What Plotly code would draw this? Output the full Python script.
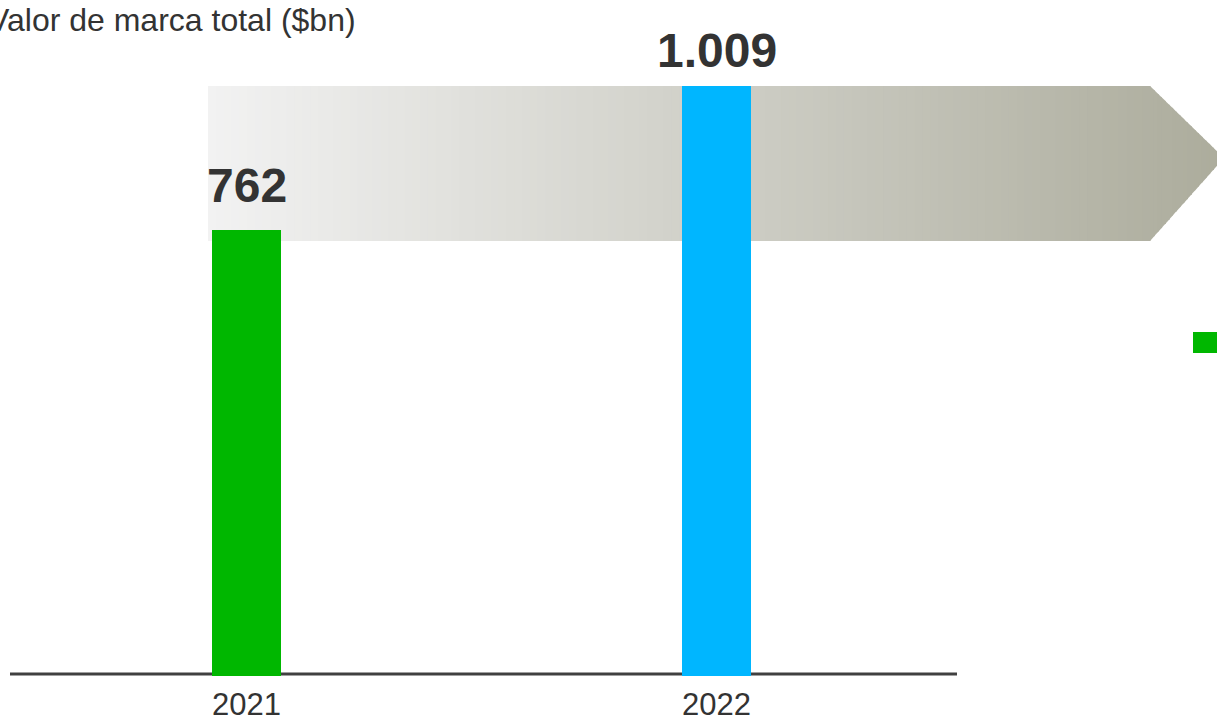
import plotly.graph_objects as go

# ---- data ----
years = ["2021", "2022"]
values = [762, 1009]
value_labels = ["762", "1.009"]
bar_colors = ["#00B700", "#00B6FF"]
title_text = "Valor de marca total ($bn)"

# ---- layout constants (pixels) ----
W, H = 1217, 721
PLOT_LEFT, PLOT_RIGHT = 10, 957
PLOT_TOP, PLOT_BOTTOM = 60, 676
L = PLOT_LEFT
R = W - PLOT_RIGHT
T = PLOT_TOP
B = H - PLOT_BOTTOM
PW = PLOT_RIGHT - PLOT_LEFT
PH = PLOT_BOTTOM - PLOT_TOP


def px(x):
    return (x - PLOT_LEFT) / PW


def py(y):
    return (PLOT_BOTTOM - y) / PH


fig = go.Figure()
fig.add_trace(go.Bar(
    x=[0, 1], y=values, width=0.1468,
    marker=dict(color=bar_colors, line=dict(width=0)),
    showlegend=False, hoverinfo="skip",
))

shapes = []
# gradient arrow behind bars
x_start, x_body_end, tip_x, tip_y = 208, 1150, 1224, 158
top_y, bot_y = 86, 241
c0 = (242, 242, 242)
c1 = (172, 172, 156)


def top_at(x):
    if x <= x_body_end:
        return top_y
    return top_y + (x - x_body_end) * (tip_y - top_y) / (tip_x - x_body_end)


def bot_at(x):
    if x <= x_body_end:
        return bot_y
    return bot_y - (x - x_body_end) * (bot_y - tip_y) / (tip_x - x_body_end)


edges = sorted(set([x_start + (x_body_end - x_start) * i / 120 for i in range(121)] +
                   [x_body_end + (tip_x - x_body_end) * i / 20 for i in range(21)]))
for i in range(len(edges) - 1):
    xa = edges[i]
    xb = min(edges[i + 1] + 1.0, tip_x)
    t = ((xa + edges[i + 1]) / 2 - x_start) / (tip_x - x_start)
    col = "rgb(%d,%d,%d)" % tuple(round(a + (b - a) * t) for a, b in zip(c0, c1))
    if xa < x_body_end < xb:
        pts = [(xa, top_at(xa)), (x_body_end, top_y), (xb, top_at(xb)),
               (xb, bot_at(xb)), (x_body_end, bot_y), (xa, bot_at(xa))]
    else:
        pts = [(xa, top_at(xa)), (xb, top_at(xb)), (xb, bot_at(xb)), (xa, bot_at(xa))]
    path = "M " + " L ".join("%.6f,%.6f" % (px(x), py(y)) for x, y in pts) + " Z"
    shapes.append(dict(type="path", xref="paper", yref="paper", path=path,
                       fillcolor=col, line=dict(width=0), layer="below"))

# baseline axis line
shapes.append(dict(type="line", xref="paper", yref="paper",
                   x0=px(10), x1=px(957), y0=py(674), y1=py(674),
                   line=dict(color="#404040", width=3), layer="below"))

# legend swatch (partly off canvas)
shapes.append(dict(type="rect", xref="paper", yref="paper",
                   x0=px(1193), x1=px(1232), y0=py(353), y1=py(332),
                   fillcolor=bar_colors[0], line=dict(width=0)))

annotations = []
label_yshift = [16, 7]
for i, (v, lab) in enumerate(zip(values, value_labels)):
    annotations.append(dict(
        x=i, y=v, xref="x", yref="y", text="<b>%s</b>" % lab, showarrow=False,
        yanchor="bottom", xanchor="center", yshift=label_yshift[i],
        font=dict(family="Liberation Sans, Arial, sans-serif", size=48, color="#333333"),
    ))

annotations.append(dict(
    x=px(-14), y=py(0), xref="paper", yref="paper", text=title_text,
    showarrow=False, xanchor="left", yanchor="top",
    font=dict(family="Liberation Sans, Arial, sans-serif", size=32, color="#333333"),
))

top_range = PH / ((PLOT_BOTTOM - 86) / 1009)
fig.update_layout(
    width=W, height=H,
    margin=dict(l=L, r=R, t=T, b=B, pad=0, autoexpand=False),
    paper_bgcolor="white", plot_bgcolor="rgba(0,0,0,0)",
    shapes=shapes, annotations=annotations,
    xaxis=dict(
        range=[-0.5032, 1.5117], tickvals=[0, 1], ticktext=years,
        showgrid=False, zeroline=False, showline=False, ticks="",
        ticklabelstandoff=7, automargin=False,
        tickfont=dict(family="Liberation Sans, Arial, sans-serif", size=31, color="#333333"),
        fixedrange=True,
    ),
    yaxis=dict(range=[0, top_range], visible=False, showgrid=False, zeroline=False,
               automargin=False, fixedrange=True),
    bargap=0,
)

fig.write_html(
    "out.html",
    config={"displayModeBar": False},
    post_script="document.body.style.margin='0';document.body.style.overflow='hidden';",
)
